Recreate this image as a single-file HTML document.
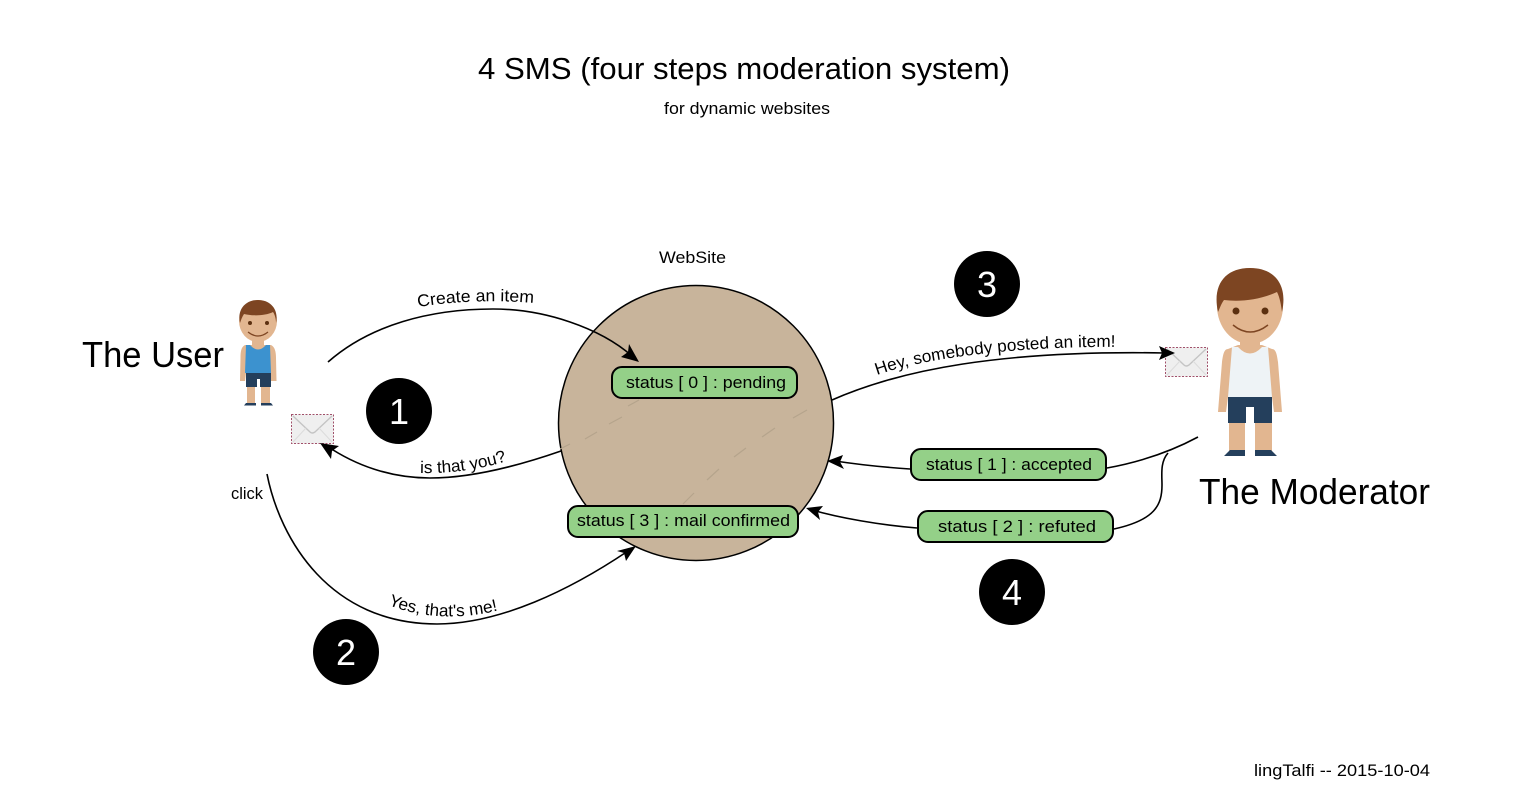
<!DOCTYPE html>
<html><head><meta charset="utf-8"><style>html,body{margin:0;padding:0;background:#fff;width:1520px;height:807px;overflow:hidden}svg{display:block}text{font-family:"Liberation Sans",sans-serif;fill:#000}</style></head><body>
<svg width="1520" height="807" viewBox="0 0 1520 807" xmlns="http://www.w3.org/2000/svg">
<defs>
<symbol id="mail" viewBox="0 0 44 32" overflow="visible">
<rect x="0.5" y="0.5" width="42" height="29" fill="#efefef" stroke="#a0506a" stroke-width="1" stroke-dasharray="2 1.5"/>
<path d="M2 2L19 18Q21 20 24 18L41 2" fill="none" stroke="#c4c4c4" stroke-width="1.4"/>
<path d="M2 28L15 14M41 28L28 14" fill="none" stroke="#dcdcdc" stroke-width="1"/>
</symbol>
<path id="p1" d="M418 307Q475 298 534 303"/>
<path id="p2" d="M420 473Q465 474 507 461"/>
<path id="p3" d="M388 605Q440 625 500 610"/>
<path id="p4" d="M877 375C930 356 1030 346 1118 347"/>
</defs>
<text x="478" y="79" font-size="31" textLength="532" lengthAdjust="spacingAndGlyphs">4 SMS (four steps moderation system)</text>
<text x="664" y="114" font-size="17" textLength="166" lengthAdjust="spacingAndGlyphs">for dynamic websites</text>
<text x="659" y="263" font-size="17" textLength="67" lengthAdjust="spacingAndGlyphs">WebSite</text>
<circle cx="696" cy="423" r="137.5" fill="#c8b49b" stroke="#000" stroke-width="1.5"/>
<g stroke="#b5a48c" stroke-width="1.2" fill="none">
<path d="M628 406L639 400M609 424L622 417M585 439L597 432M560 449L570 444"/>
<path d="M793 418L807 410M762 437L775 428M734 457L746 448M707 480L719 469M683 504L694 493"/>
</g>
<use href="#mail" x="291" y="414" width="44" height="32"/>
<use href="#mail" x="1165" y="347" width="44" height="32"/>
<g fill="none" stroke="#000" stroke-width="1.6">
<path d="M328 362C370 325 430 309 493 309C545 309 600 328 632 356"/>
<path d="M561 451C515 467 470 478 430 478C390 478 355 465 327 446"/>
<path d="M267 474C280 540 330 624 437 624C500 624 570 590 628 551"/>
<path d="M832 400C900 370 1000 350 1165 353"/>
<path d="M1198 437C1170 452 1140 462 1107 468"/>
<path d="M1168 453C1160 462 1162 475 1162 485C1162 505 1155 520 1114 529"/>
<path d="M910 469C880 467 855 464 835 461"/>
<path d="M917 528C880 525 840 518 812 510"/>
</g>
<g fill="#000">
<path d="M639 362L621 357L628 352L629 344Z"/>
<path d="M320 443L339 446L332 451L331 459Z"/>
<path d="M636 546L626 561L624 553L617 551Z"/>
<path d="M1175 353L1159 360L1162 353L1159 346Z"/>
<path d="M827 461L843 455L840 462L844 469Z"/>
<path d="M806 508L823 506L818 512L820 520Z"/>
</g>
<g stroke="#000" stroke-width="2" fill="#94d088">
<rect x="612" y="367" width="185" height="31" rx="10"/>
<rect x="568" y="506" width="230" height="31" rx="10"/>
<rect x="911" y="449" width="195" height="31" rx="10"/>
<rect x="918" y="511" width="195" height="31" rx="10"/>
</g>
<g font-size="17">
<text x="626" y="388" textLength="160" lengthAdjust="spacingAndGlyphs">status [ 0 ] : pending</text>
<text x="577" y="526" textLength="213" lengthAdjust="spacingAndGlyphs">status [ 3 ] : mail confirmed</text>
<text x="926" y="470" textLength="166" lengthAdjust="spacingAndGlyphs">status [ 1 ] : accepted</text>
<text x="938" y="532" textLength="158" lengthAdjust="spacingAndGlyphs">status [ 2 ] : refuted</text>
<text x="231" y="499" textLength="32" lengthAdjust="spacingAndGlyphs">click</text>
<text><textPath href="#p1" textLength="116" lengthAdjust="spacingAndGlyphs">Create an item</textPath></text>
<text><textPath href="#p2" textLength="88" lengthAdjust="spacingAndGlyphs">is that you?</textPath></text>
<text><textPath href="#p3" textLength="112" lengthAdjust="spacingAndGlyphs">Yes, that's me!</textPath></text>
<text><textPath href="#p4" textLength="241" lengthAdjust="spacingAndGlyphs">Hey, somebody posted an item!</textPath></text>
<text x="1254" y="776" textLength="176" lengthAdjust="spacingAndGlyphs">lingTalfi -- 2015-10-04</text>
</g>
<text x="82" y="367" font-size="36" textLength="142" lengthAdjust="spacingAndGlyphs">The User</text>
<text x="1199" y="504" font-size="36" textLength="231" lengthAdjust="spacingAndGlyphs">The Moderator</text>
<g>
<circle cx="399" cy="411" r="33"/><circle cx="346" cy="652" r="33"/><circle cx="987" cy="284" r="33"/><circle cx="1012" cy="592" r="33"/>
<g font-size="36" text-anchor="middle">
<text x="399" y="424" style="fill:#fff">1</text><text x="346" y="665" style="fill:#fff">2</text><text x="987" y="297" style="fill:#fff">3</text><text x="1012" y="605" style="fill:#fff">4</text>
</g></g>
<!-- user -->
<g>
<path d="M245 345H271C275 347 276 352 276 358L276.500 381H271L270 373H246L245 381H240L240.500 358C240.500 352 241 347 245 345Z" fill="#e2b690"/>
<path d="M252 338H264V350H252Z" fill="#e2b690"/>
<path d="M246 345H250Q258 354 266 345H270L271 373H245Z" fill="#3c92cf"/>
<path d="M246 373H271V387H260V379H257V387H246Z" fill="#243f5c"/>
<path d="M247 387H255V403H247ZM261 387H270V403H261Z" fill="#e2b690"/>
<path d="M244 405.500L246 403H256V405.500ZM261 405.500V403H271L273 405.500Z" fill="#243f5c"/>
<ellipse cx="258" cy="321" rx="19" ry="21" fill="#e2b690"/>
<path d="M240 323C237 310 245 300 258 300C271 300 279 310 276 323C276 319 275 315 273 312C265 316 252 316 244 314C242 317 241 320 240 323Z" fill="#7d4522"/>
<circle cx="250" cy="323" r="2" fill="#5c3010"/><circle cx="267" cy="323" r="2" fill="#5c3010"/>
<path d="M248 332Q258 340 268 332" fill="none" stroke="#7d4522" stroke-width="1.2"/>
</g>
<!-- moderator -->
<g>
<path d="M1228 349L1238 345H1262L1272 349C1276 349 1277 355 1278 362L1282 412H1274L1272 397H1228L1226 412H1218L1222 362C1223 355 1224 349 1228 349Z" fill="#e2b690"/>
<path d="M1240 335H1260V352H1240Z" fill="#e2b690"/>
<path d="M1232 347H1238Q1250 360 1262 347H1268L1272 397H1228Z" fill="#eef3f6"/>
<path d="M1228 397H1272V423H1254V407H1246V423H1228Z" fill="#243f5c"/>
<path d="M1229 423H1245V451H1229ZM1255 423H1272V451H1255Z" fill="#e2b690"/>
<path d="M1224 456L1230 450H1245V456ZM1255 456V450H1271L1277 456Z" fill="#243f5c"/>
<ellipse cx="1250" cy="306" rx="33" ry="38" fill="#e2b690"/>
<path d="M1218 312C1212 285 1225 268 1250 268C1275 268 1288 285 1282 312C1281 305 1280 298 1277 292C1260 300 1240 302 1224 300C1221 304 1220 308 1218 312Z" fill="#7d4522"/>
<circle cx="1236" cy="311" r="3.500" fill="#5c3010"/><circle cx="1265" cy="311" r="3.500" fill="#5c3010"/>
<path d="M1233 325Q1250 339 1268 325" fill="none" stroke="#7d4522" stroke-width="1.500"/>
</g>
</svg>
</body></html>
